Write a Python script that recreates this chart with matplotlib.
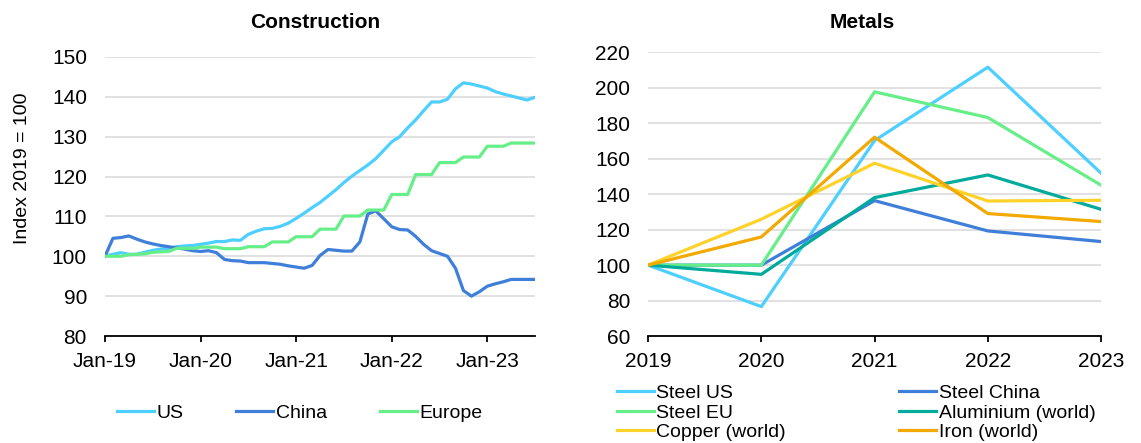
import matplotlib
matplotlib.use("Agg")
import matplotlib.pyplot as plt

plt.rcParams["font.family"] = ["Liberation Sans", "DejaVu Sans"]

# Construction cost indices, monthly Jan-19 .. Jul-23 (Index 2019 = 100)
construction_us = [
    100, 100.5, 100.9, 100.5, 100.5,
    101, 101.5, 101.8, 102, 102.4,
    102.6, 102.7, 103, 103.3, 103.7,
    103.7, 104.1, 104, 105.5, 106.3,
    106.9, 107, 107.5, 108.3, 109.5,
    110.8, 112.2, 113.5, 115.1, 116.7,
    118.5, 120.1, 121.5, 122.9, 124.5,
    126.6, 128.7, 130, 132.2, 134.2,
    136.5, 138.7, 138.7, 139.4, 142,
    143.5, 143.2, 142.7, 142.2, 141.3,
    140.7, 140.2, 139.7, 139.2, 139.9,
]
construction_china = [
    100, 104.5, 104.7, 105.1, 104.3,
    103.6, 103.1, 102.7, 102.4, 102.1,
    101.8, 101.4, 101.2, 101.4, 100.9,
    99.2, 98.9, 98.8, 98.4, 98.4,
    98.4, 98.2, 98, 97.6, 97.3,
    97, 97.7, 100.2, 101.7, 101.5,
    101.3, 101.3, 103.6, 110.6, 111.4,
    109.4, 107.4, 106.7, 106.6, 105,
    103, 101.4, 100.7, 100, 97,
    91.4, 90, 91.1, 92.5, 93.1,
    93.6, 94.2, 94.2, 94.2, 94.2,
]
construction_europe = [
    100, 100, 100, 100.4, 100.5,
    100.6, 101, 101.1, 101.2, 102,
    102, 102, 102.3, 102.3, 102.3,
    101.9, 101.9, 101.9, 102.4, 102.4,
    102.4, 103.6, 103.6, 103.6, 104.9,
    104.9, 104.9, 106.8, 106.8, 106.8,
    110.1, 110.1, 110.1, 111.6, 111.6,
    111.6, 115.5, 115.5, 115.5, 120.5,
    120.5, 120.5, 123.5, 123.5, 123.5,
    124.9, 124.9, 124.9, 127.6, 127.6,
    127.6, 128.4, 128.4, 128.4, 128.4,
]
month_tick_labels = ["Jan-19", "Jan-20", "Jan-21", "Jan-22", "Jan-23"]

# Metal prices, annual (Index 2019 = 100)
years = ["2019", "2020", "2021", "2022", "2023"]
steel_us = [100, 76.6, 170.3, 211.7, 151.9]
steel_china = [100, 100, 136.4, 119.3, 113.3]
steel_eu = [100, 100, 197.8, 183.3, 145.1]
aluminium = [100, 94.8, 138.1, 150.9, 131.5]
copper = [100, 125.9, 157.5, 136.2, 136.6]
iron = [100, 115.9, 172.2, 129.1, 124.6]

C_US = "#4DCFFF"
C_CHINA = "#3F7FD9"
C_EU = "#66EE88"
C_ALU = "#00AB9B"
C_COPPER = "#FFD22A"
C_IRON = "#F2A900"

LW = 2.3
FS_TICK = 15
FS_LEG = 14


def style_axes(ax):
    for side in ("left", "right", "top"):
        ax.spines[side].set_visible(False)
    ax.spines["bottom"].set_linewidth(1.3)
    ax.spines["bottom"].set_color("black")
    ax.grid(axis="y", color="#D9D9D9", linewidth=1.1)
    ax.set_axisbelow(True)
    ax.tick_params(axis="y", length=0, pad=13, labelsize=FS_TICK)
    ax.tick_params(axis="x", length=4.5, width=1.3, direction="out",
                   pad=7, labelsize=FS_TICK)


fig = plt.figure(figsize=(11.41, 4.43), dpi=100)

# Left panel: construction
ax1 = fig.add_axes([0.092, 0.2415, 0.377, 0.630])
months = list(range(len(construction_us)))
ax1.plot(months, construction_us, color=C_US, lw=LW, label="US",
         solid_joinstyle="round")
ax1.plot(months, construction_china, color=C_CHINA, lw=LW, label="China",
         solid_joinstyle="round")
ax1.plot(months, construction_europe, color=C_EU, lw=LW, label="Europe",
         solid_joinstyle="round")
ax1.set_xlim(0, len(months) - 1)
ax1.set_ylim(80, 150)
ax1.set_yticks(range(80, 151, 10))
ax1.set_xticks([12 * i for i in range(len(month_tick_labels))])
ax1.set_xticklabels(month_tick_labels)
style_axes(ax1)
ax1.set_ylabel("Index 2019 = 100", fontsize=14)
ax1.yaxis.set_label_coords(-0.172, 0.6)

h1, l1 = ax1.get_legend_handles_labels()
fig.legend(h1, l1, loc="center", bbox_to_anchor=(300 / 1141, 0.068),
           ncol=3, frameon=False, fontsize=FS_LEG, handlelength=1.9,
           handletextpad=0.15, columnspacing=2.7)

# Right panel: metals
ax2 = fig.add_axes([0.568, 0.2415, 0.397, 0.640])
xs = list(range(len(years)))
series = [
    (steel_us, C_US, "Steel US"),
    (steel_china, C_CHINA, "Steel China"),
    (steel_eu, C_EU, "Steel EU"),
    (aluminium, C_ALU, "Aluminium (world)"),
    (copper, C_COPPER, "Copper (world)"),
    (iron, C_IRON, "Iron (world)"),
]
lines = {}
for vals, col, name in series:
    (ln,) = ax2.plot(xs, vals, color=col, lw=LW, label=name,
                     solid_joinstyle="round")
    lines[name] = ln
ax2.set_xlim(0, len(years) - 1)
ax2.set_ylim(60, 220)
ax2.set_yticks(range(60, 221, 20))
ax2.set_xticks(xs)
ax2.set_xticklabels(years)
style_axes(ax2)

# legend reads row-wise, matplotlib fills columns first
order = ["Steel US", "Steel EU", "Copper (world)",
         "Steel China", "Aluminium (world)", "Iron (world)"]
fig.legend([lines[n] for n in order], order, loc="center",
           bbox_to_anchor=(856 / 1141, 0.068), ncol=2, frameon=False,
           fontsize=FS_LEG, handlelength=1.9, handletextpad=0.15,
           columnspacing=5.8, labelspacing=0.1)

fig.text(315 / 1141, 0.95, "Construction", ha="center", va="center",
         fontsize=15, fontweight="bold")
fig.text(862 / 1141, 0.95, "Metals", ha="center", va="center",
         fontsize=15, fontweight="bold")

fig.savefig("out.png", dpi=100, facecolor="white")
